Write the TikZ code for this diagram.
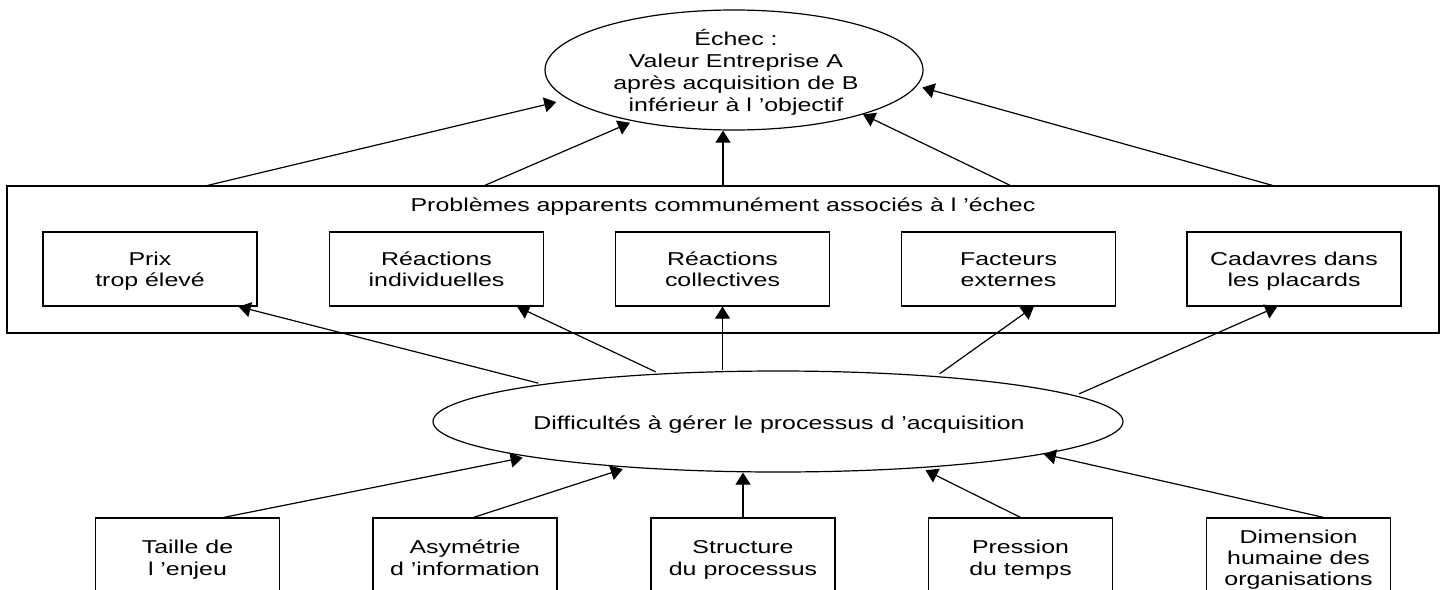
\documentclass[tikz,border=0pt]{standalone}
\usepackage{fontspec}
\setmainfont{Liberation Sans}[FakeStretch=1.34]
\usetikzlibrary{shapes.geometric,arrows.meta,calc}

% invisible struts that fix the height of the first line and the depth of the last
\newcommand\topstrut{\rule{0pt}{10pt}}
\newcommand\botstrut{\rule[-3pt]{0pt}{3pt}}

\begin{document}
\begin{tikzpicture}[x=0.5pt,y=-0.5pt,
  every node/.style={font=\fontsize{9.3}{10.6}\selectfont, align=center, inner sep=0pt},
  outline/.style={draw, line width=0.6pt},
  oval/.style={outline, ellipse},
  probbox/.style={outline, minimum width=107pt, minimum height=37pt},
  causebox/.style={outline, minimum width=92pt, minimum height=39.5pt},
  arr/.style={-{Triangle[length=6pt,width=7.5pt]}, line width=0.6pt}
]
\useasboundingbox (0,0) rectangle (1454,589);
\clip (0,0) rectangle (1454,589);

% outcome
\node[oval, minimum width=189pt, minimum height=60pt] (goal) at (734,70) {};
\node[font=\fontsize{9.3}{11}\selectfont] (goaltext) at (736,72)
  {Échec :\\Valeur Entreprise A\\après acquisition de B\\inférieur à l ’objectif};

% apparent problems
\node[outline, minimum width=716pt, minimum height=73.5pt] (prob) at (723,259.5) {};
\node[anchor=base] (probtitle) at (723,211) {Problèmes apparents communément associés à l ’échec};
\node[probbox] (p1) at (150,269) {\topstrut Prix\\trop élevé\botstrut};
\node[probbox] (p2) at (436.5,269) {\topstrut Réactions\\individuelles\botstrut};
\node[probbox] (p3) at (722.5,269) {\topstrut Réactions\\collectives\botstrut};
\node[probbox] (p4) at (1008.5,269) {\topstrut Facteurs\\externes\botstrut};
\node[probbox] (p5) at (1294,269) {\topstrut Cadavres dans\\les placards\botstrut};

% process difficulties
\node[oval, minimum width=345pt, minimum height=50.5pt] (proc) at (778,421.5) {};
\node[anchor=base] (proctext) at (779,429) {Difficultés à gérer le processus d ’acquisition};

% root causes
\node[causebox] (f1) at (187.5,557.5) {\topstrut Taille de\\l ’enjeu\botstrut};
\node[causebox] (f2) at (465,557.5) {\topstrut Asymétrie\\d ’information\botstrut};
\node[causebox] (f3) at (743,557.5) {\topstrut Structure\\du processus\botstrut};
\node[causebox] (f4) at (1020.5,557.5) {\topstrut Pression\\du temps\botstrut};
\node[causebox] (f5) at (1298.5,557.5) {\topstrut Dimension\\humaine des\\organisations\botstrut};

% problems -> outcome
\draw[arr, shorten >=6pt] ($(prob.north west)!0.1404!(prob.north east)$) -- (goal.190.6);
\draw[arr, shorten >=1.8pt] ($(prob.north west)!0.3338!(prob.north east)$) -- (goal.207.7);
\draw[arr] (prob.north) -- (prob.north |- goal.south);
\draw[arr] ($(prob.north west)!0.7004!(prob.north east)$) -- (goal.341.4);
\draw[arr, shorten >=2.8pt] ($(prob.north west)!0.8834!(prob.north east)$) -- (goal.355.5);

% process -> problems
\draw[arr, shorten <=2pt] (proc.171.6) -- (p1.-23.5);
\draw[arr, shorten <=2pt] (proc.158.1) -- (p2.-25.8);
\draw[arr] (p3.south |- proc.north) -- (p3.south);
\draw[arr, shorten <=2pt] (proc.16.0) -- (p4.-56.5);
\draw[arr, shorten <=2pt] (proc.5.9) -- (p5.246.6);

% causes -> process
\draw[arr, shorten >=2.5pt] (f1.48.9) -- (proc.188.3);
\draw[arr, shorten >=2.5pt] (f2.78.6) -- (proc.197.5);
\draw[arr] (f3.north) -- (f3.north |- proc.south);
\draw[arr, shorten >=2.5pt] (f4.north) -- (proc.342.5);
\draw[arr] (f5.58.2) -- (proc.353.4);
\end{tikzpicture}
\end{document}
